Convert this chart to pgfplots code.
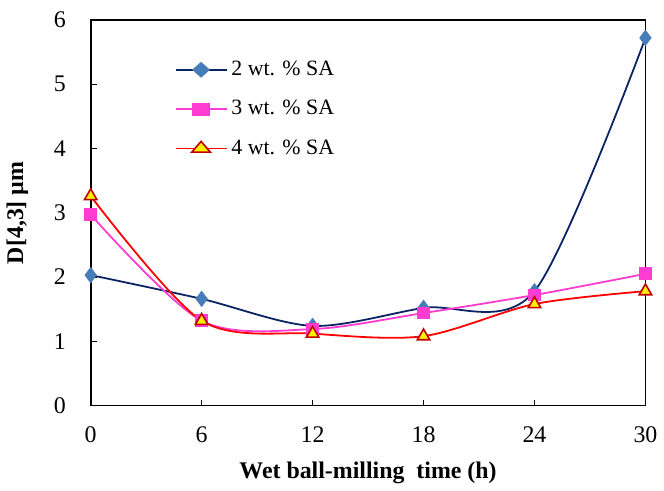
\documentclass[border=0pt]{standalone}
\usepackage{fontspec}
\setmainfont{Liberation Serif}
\usepackage{pgfplots}
\pgfplotsset{compat=1.18}
\definecolor{navyline}{RGB}{10,35,100}
\definecolor{bluemark}{RGB}{70,125,185}
\definecolor{pinkline}{RGB}{255,60,210}
\definecolor{yellowfill}{RGB}{255,240,0}
\definecolor{darkredmark}{RGB}{190,0,0}

\begin{document}
\begin{tikzpicture}
\begin{axis}[
    scale only axis,
    width=279pt,
    height=194pt,
    xmin=0, xmax=30,
    ymin=0, ymax=6,
    xtick={0,6,...,30},
    ytick={0,1,...,6},
    tick align=inside,
    tick pos=left,
    axis line style={line width=0.9pt},
    major tick length=3pt,
    tick style={black, line width=0.6pt},
    ticklabel style={font=\fontsize{12}{14}\selectfont},
    /pgf/number format/assume math mode=true,
    xticklabel style={yshift=-7pt},
    yticklabel style={xshift=-9pt},
    xlabel={\textbf{Wet ball-milling\ \ time (h)}},
    ylabel={\textbf{D[4,3] µm}},
    label style={font=\fontsize{12}{14}\selectfont},
    xlabel style={yshift=-3pt},
    ylabel style={yshift=6pt},
    legend style={draw=none, fill=none, at={(0.14,0.915)}, anchor=north west,
        font=\fontsize{11}{13}\selectfont, row sep=7pt},
    legend cell align=left,
    legend image post style={xscale=1.5},
]
\addplot[navyline, line width=0.9pt, smooth, mark=diamond*, mark size=3.4pt,
    mark options={fill=bluemark, draw=bluemark}] coordinates {
    (0,2.03) (6,1.66) (12,1.24) (18,1.52) (24,1.78) (30,5.72)
};
\addlegendentry{2 wt. \% SA}
\addplot[pinkline, line width=0.9pt, smooth, mark=square*, mark size=2.8pt,
    mark options={fill=pinkline, draw=pinkline}] coordinates {
    (0,2.97) (6,1.32) (12,1.19) (18,1.44) (24,1.72) (30,2.05)
};
\addlegendentry{3 wt. \% SA}
\addplot[red, line width=0.9pt, smooth, mark=triangle*, mark size=3.6pt,
    mark options={fill=yellowfill, draw=darkredmark, line width=0.8pt}] coordinates {
    (0,3.26) (6,1.32) (12,1.12) (18,1.08) (24,1.58) (30,1.78)
};
\addlegendentry{4 wt. \% SA}
\end{axis}
\path (current axis.north east) ++(0,10pt);
\end{tikzpicture}
\end{document}
